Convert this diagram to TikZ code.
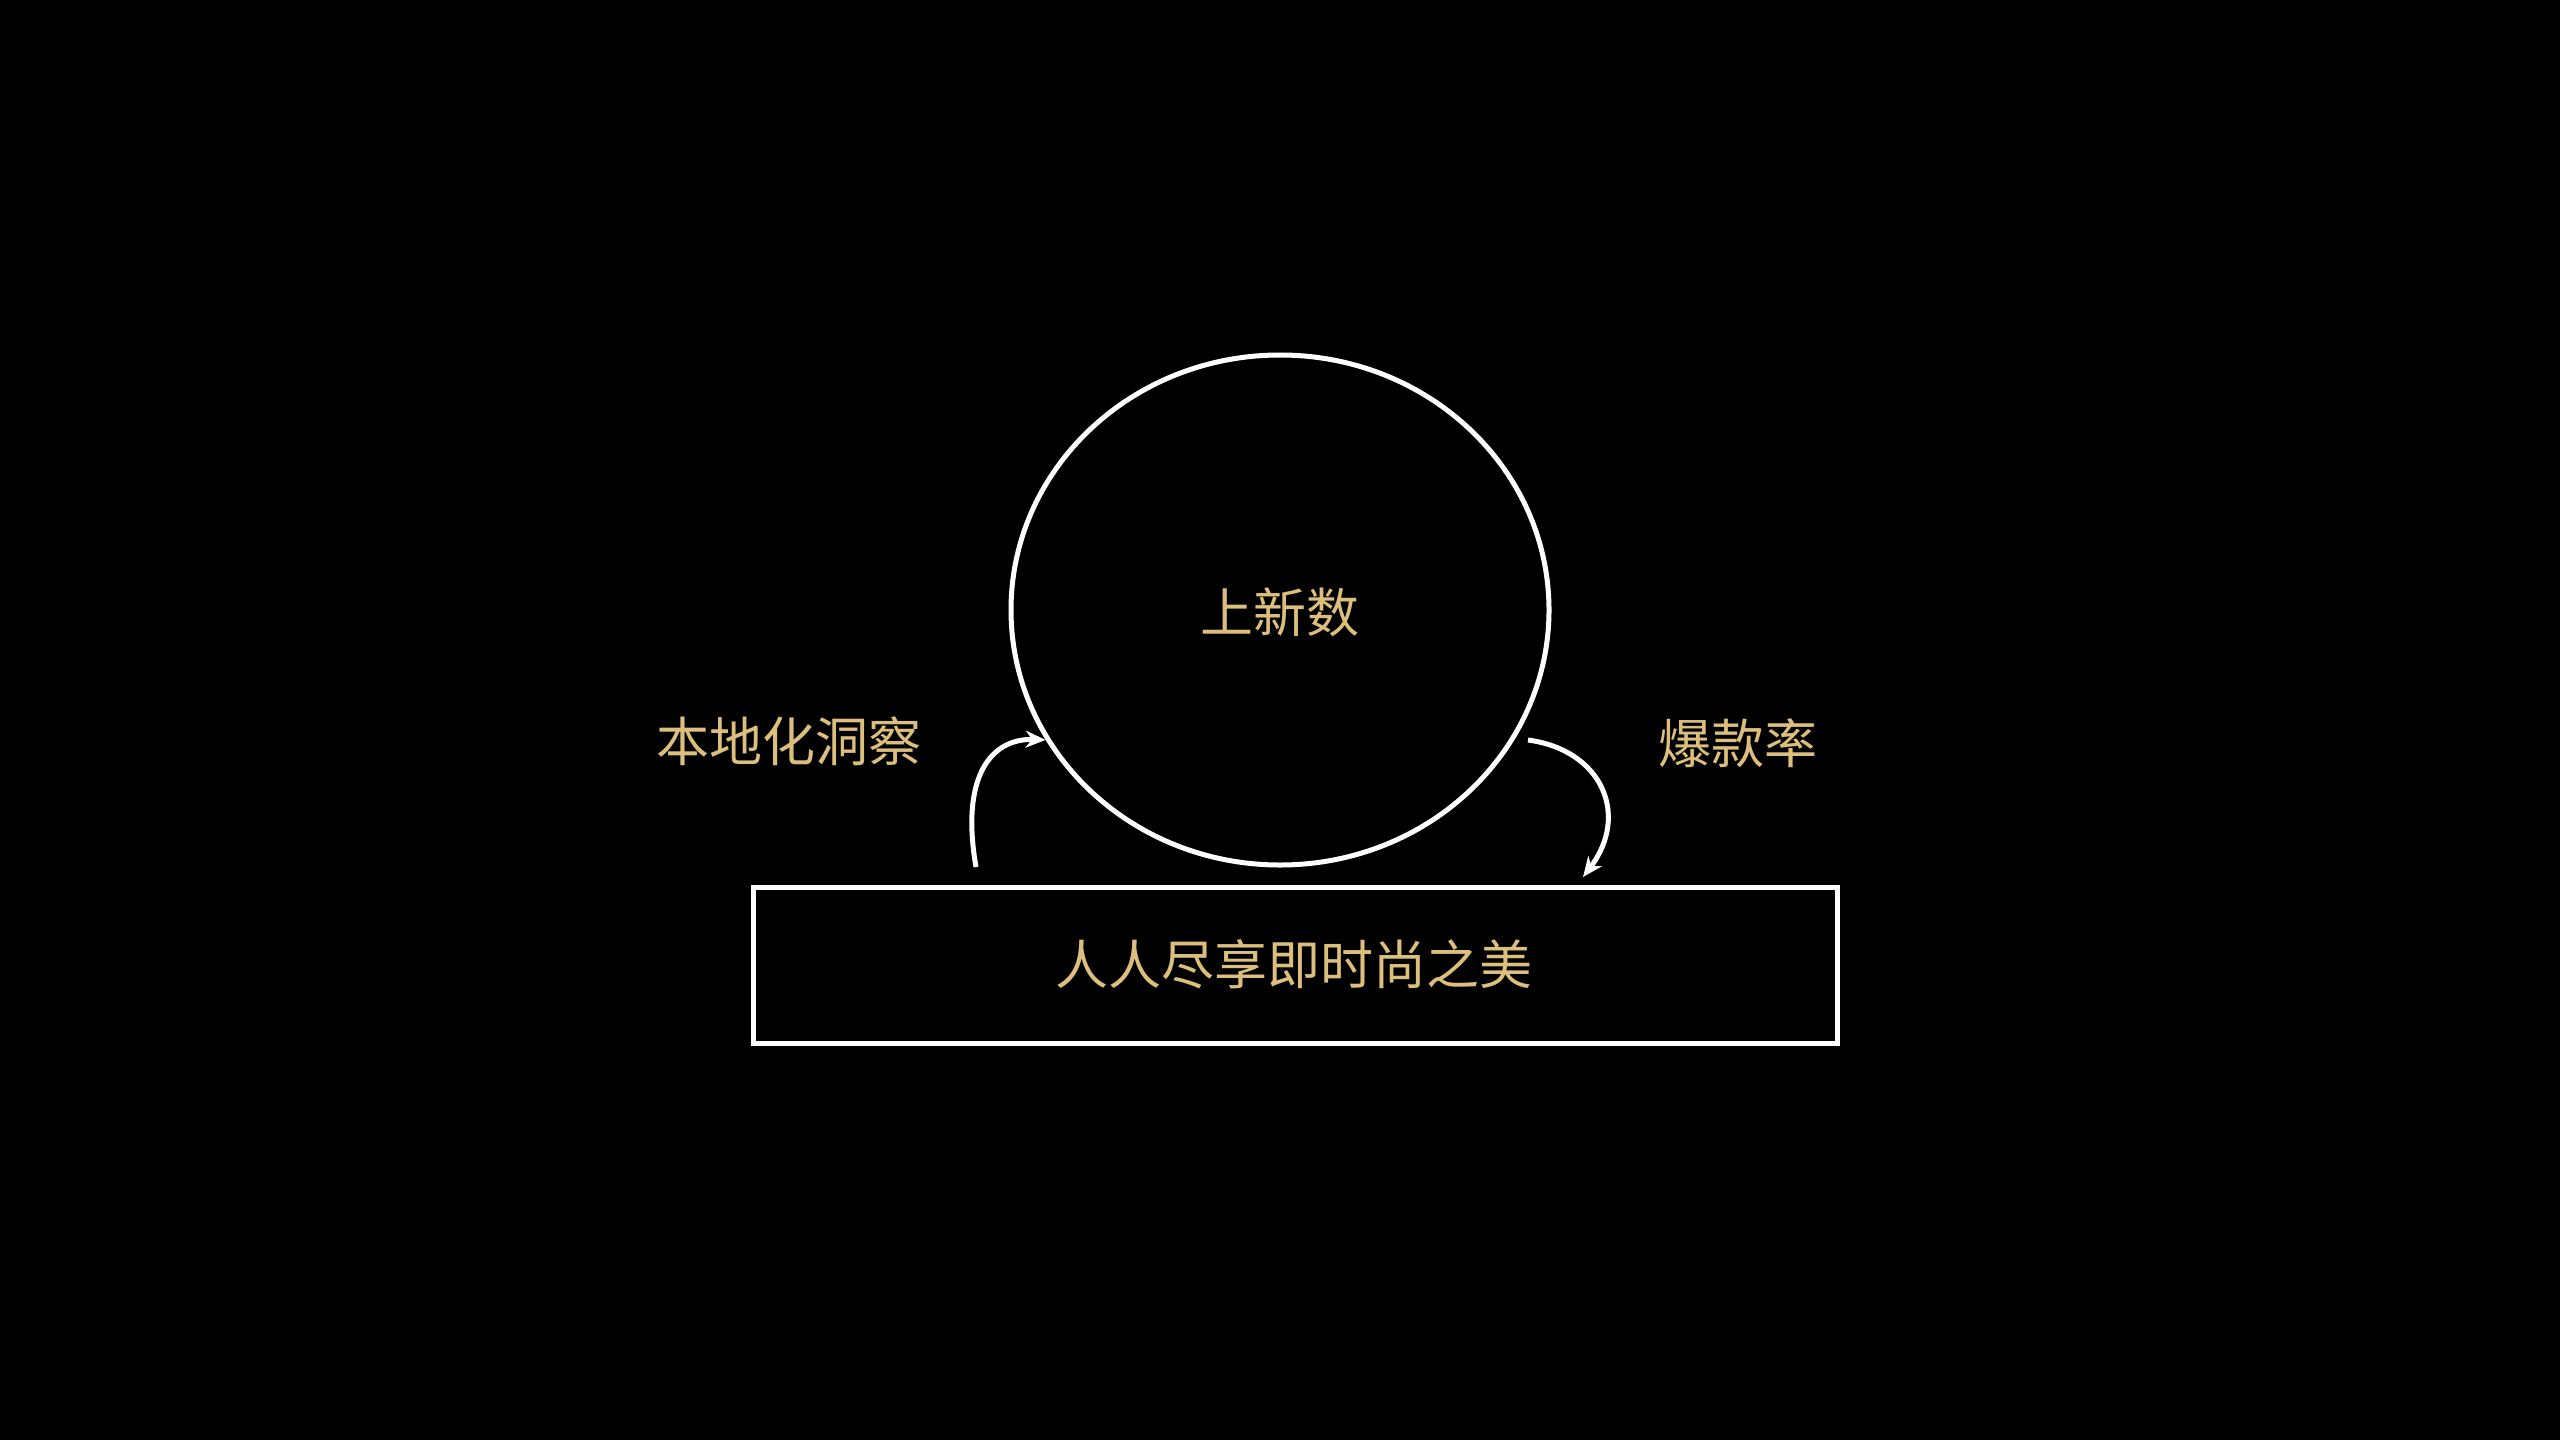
\documentclass[tikz,border=0pt]{standalone}
\usepackage{fontspec}
\newfontfamily\cjk{Noto Sans CJK SC}
\usetikzlibrary{shapes.geometric,arrows.meta}
\definecolor{gold}{RGB}{220,190,125}
\tikzset{
  lbl/.style={text=gold,font=\cjk\fontsize{53bp}{60bp}\selectfont,inner sep=0pt},
  wline/.style={draw=white,line width=5bp},
  arr/.style={wline,-{Stealth[length=20bp,width=17bp]}}
}
\begin{document}
\begin{tikzpicture}[x=1bp,y=-1bp]
\fill[black] (0,0) rectangle (2560,1440);
\useasboundingbox (0,0) rectangle (2560,1440);
\node[ellipse,wline,minimum width=538bp,minimum height=510bp,inner sep=0pt] (c) at (1280,610) {};
\node[lbl] (ct) at (1280,612) {上新数};
\node[rectangle,wline,minimum width=1084bp,minimum height=156bp,inner sep=0pt] (r) at (1295,965) {};
\node[lbl] (rt) at (1294,964) {人人尽享即时尚之美};
\node[lbl] (lt) at (789,741) {本地化洞察};
\node[lbl] (rtl) at (1738,743) {爆款率};
\coordinate (ls) at (976,867);
\coordinate (rs) at (1528,740);
\coordinate (re) at (1583,877);
\draw[arr] (ls) .. controls (960,775) and (992,738) .. (c.209);
\draw[arr] (rs) .. controls (1602,750) and (1630,815) .. (re);
\end{tikzpicture}
\end{document}
